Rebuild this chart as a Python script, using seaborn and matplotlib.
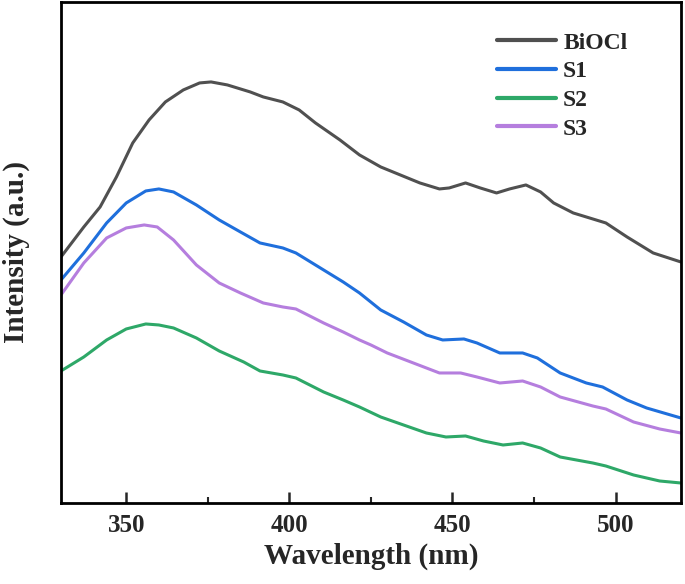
#! /usr/bin/env python3
# -*- coding: utf-8 -*-

import pandas as pd
import matplotlib
matplotlib.use('Agg')
import matplotlib.pyplot as plt
from matplotlib.ticker import MultipleLocator
import seaborn as sns

#PL spectra (arbitrary intensity units)
wl_biocl = [330, 337, 342, 347, 352, 357, 362, 367.5, 372.5, 376, 381, 388, 392, 398, 403, 408,
            415.5, 421.5, 428, 434, 440, 446, 449, 454, 458.5, 463.5, 467.5, 472.5, 477, 481,
            487, 493, 497, 503.5, 511.5, 520]
int_biocl = [246, 276, 296, 326, 360, 383, 401, 413, 420, 421, 418, 411, 406, 401, 393, 380,
             363, 348, 336, 328, 320, 314, 315, 320, 315, 310, 314, 318, 311, 300,
             290, 284, 280, 266, 250, 241]

wl_s1 = [330, 337, 344, 350, 356, 360, 364.5, 371.5, 378.5, 385, 391, 398, 402, 410.5, 416.5,
         421.5, 428, 435, 442, 447, 453.5, 457.5, 464.5, 471.5, 476, 483, 491, 496, 503.5,
         509.5, 520]
int_s1 = [223, 250, 280, 300, 312, 314, 311, 298, 283, 271, 260, 255, 250, 233, 221,
          210, 193, 181, 168, 163, 164, 160, 150, 150, 145, 130, 120, 116, 103,
          95, 85]

wl_s2 = [330, 337, 344, 350, 356, 360, 364.5, 371.5, 378.5, 386, 391, 398, 402, 410.5, 416.5,
         421.5, 428, 435, 442, 448, 454, 459.5, 465.5, 471.5, 477, 483, 493, 497, 505.5,
         513.5, 520]
int_s2 = [132, 146, 163, 174, 179, 178, 175, 165, 152, 141, 132, 128, 125, 111, 103,
          96, 86, 78, 70, 66, 67, 62, 58, 60, 55, 46, 40, 37, 28,
          22, 20]

wl_s3 = [330, 337, 344, 350, 355.5, 359.5, 364.5, 371.5, 378.5, 385, 392, 398, 402, 410.5, 416.5,
         421.5, 425, 430, 438, 446, 452.5, 457.5, 464.5, 471.5, 477, 483, 493, 497, 505.5,
         513.5, 520]
int_s3 = [208, 240, 265, 275, 278, 276, 263, 238, 220, 210, 200, 196, 194, 180, 171,
          163, 158, 150, 140, 130, 130, 126, 120, 122, 116, 106, 97, 94, 81,
          74, 70]

names = ['BiOCl', 'S1', 'S2', 'S3']
colors = ['#505050', '#1f6fdc', '#2ea868', '#b57ede']

frames = []
for name, wl, inten in zip(names, [wl_biocl, wl_s1, wl_s2, wl_s3],
                           [int_biocl, int_s1, int_s2, int_s3]):
    frames.append(pd.DataFrame({'Wavelength': wl, 'Intensity': inten, 'Sample': name}))
data = pd.concat(frames, ignore_index=True)

sns.set_style('ticks')
plt.rcParams['font.family'] = ['Liberation Serif', 'DejaVu Serif']
plt.rcParams['font.weight'] = 'bold'

fig = plt.figure(figsize=(6.85, 5.84), dpi=100)
ax = fig.add_axes([0.089, 0.1387, 0.905, 0.858])
sns.lineplot(data=data, x='Wavelength', y='Intensity', hue='Sample', hue_order=names,
             palette=colors, linewidth=2.2, ax=ax, sort=False, estimator=None,
             solid_joinstyle='round')

ax.set_xlim(330, 520)
ax.set_ylim(0, 501)
ax.xaxis.set_major_locator(MultipleLocator(50))
ax.xaxis.set_minor_locator(MultipleLocator(25))
ax.set_yticks([])
ax.tick_params(axis='x', which='major', direction='in', length=8, width=1.8, labelsize=18, pad=8)
ax.tick_params(axis='x', which='minor', direction='in', length=4, width=1.5)
for lab in ax.get_xticklabels():
    lab.set_fontweight('bold')
for sp in ax.spines.values():
    sp.set_visible(True)
    sp.set_linewidth(2)
    sp.set_color('black')

ax.set_xlabel('Wavelength (nm)', fontsize=21, fontweight='bold', labelpad=4)
ax.set_ylabel('Intensity (a.u.)', fontsize=21, fontweight='bold', labelpad=22)

leg = ax.legend(loc='upper right', bbox_to_anchor=(0.948, 0.982), frameon=False,
                fontsize=17, handlelength=2.5, handletextpad=0.3, labelspacing=0.3)
for t in leg.get_texts():
    t.set_fontweight('bold')
for h in leg.get_lines():
    h.set_linewidth(3)

fig.savefig('out.png', dpi=100)
